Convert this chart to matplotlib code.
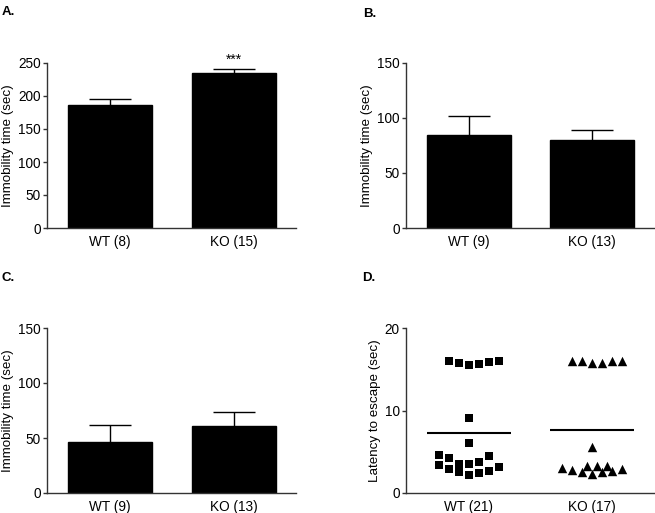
import matplotlib
matplotlib.use("Agg")
import matplotlib.pyplot as plt
import numpy as np

plt.rcParams['font.family'] = ['Liberation Sans', 'DejaVu Sans']
plt.rcParams['font.size'] = 7.5

# ---- data ----
groups_A = ["WT (8)", "KO (15)"]
means_A = [187, 235]
sem_A = [9, 6]

groups_B = ["WT (9)", "KO (13)"]
means_B = [84.5, 80]
sem_B = [17.5, 9.5]

groups_C = ["WT (9)", "KO (13)"]
means_C = [46, 60.6]
sem_C = [15.5, 13]

groups_D = ["WT (21)", "KO (17)"]
wt_D = [15.96, 15.76, 15.47, 15.6, 15.9, 15.96, 9.1, 6.06,
        4.65, 4.24, 3.5, 3.5, 3.76, 4.44, 3.35, 2.95, 2.55, 2.22, 2.42, 2.63, 3.15]
wt_D_cols = [-2, -1, 0, 1, 2, 3, 0, 0,
             -3, -2, -1, 0, 1, 2, -3, -2, -1, 0, 1, 2, 3]
ko_D = [15.96, 15.96, 15.7, 15.7, 15.96, 15.96, 5.6,
        3.03, 2.83, 2.55, 3.27, 2.3, 3.23, 2.5, 3.3, 2.67, 2.95]
ko_D_cols = [-2, -1, 0, 1, 2, 3, 0,
             -3, -2, -1, -0.5, 0, 0.5, 1, 1.5, 2, 3]
mean_D = [7.31, 7.6]

fig = plt.figure(figsize=(6.55, 5.13), dpi=100)
W, H = 655, 513

def ax_at(l, t, r, b):
    return fig.add_axes([l / W, 1 - b / H, (r - l) / W, (b - t) / H])

axis_col = '#333333'
bw = 0.68
xs = np.array([1, 2])
TICK_FS = 9.8
LAB_FS = 9.6

def style(ax, ymax, step, labels):
    for s in ['top', 'right']:
        ax.spines[s].set_visible(False)
    for s in ['left', 'bottom']:
        ax.spines[s].set_color(axis_col)
        ax.spines[s].set_linewidth(1.0)
    ax.set_xlim(0.49, 2.5)
    ax.set_ylim(0, ymax)
    ax.set_yticks(np.arange(0, ymax + 1, step))
    ax.tick_params(axis='y', length=3, width=1, color=axis_col, pad=1.5, labelsize=TICK_FS)
    ax.tick_params(axis='x', length=0, pad=5, labelsize=TICK_FS)
    ax.set_xticks(xs)
    ax.set_xticklabels(labels)

def bars(ax, means, sems):
    ax.bar(xs, means, width=bw, color='black', edgecolor='black', zorder=2)
    tops = np.array(means) + np.array(sems)
    ax.vlines(xs, means, tops, color='black', lw=1.0, zorder=1)
    ax.hlines(tops, xs - bw / 4, xs + bw / 4, color='black', lw=1.0, zorder=1)
    return tops

axA = ax_at(47, 63, 296, 228)
topsA = bars(axA, means_A, sem_A)
style(axA, 250, 50, groups_A)
axA.set_ylabel("Immobility time (sec)", fontsize=LAB_FS, labelpad=3)
axA.text(2, topsA[1] + 3, "***", ha='center', va='bottom', fontsize=10, clip_on=False)

axB = ax_at(406, 63, 654, 228)
bars(axB, means_B, sem_B)
style(axB, 150, 50, groups_B)
axB.set_ylabel("Immobility time (sec)", fontsize=LAB_FS, labelpad=3)

axC = ax_at(47, 328, 296, 493)
bars(axC, means_C, sem_C)
style(axC, 150, 50, groups_C)
axC.set_ylabel("Immobility time (sec)", fontsize=LAB_FS, labelpad=3)

axD = ax_at(406, 328, 654, 493)
colstep = 0.0806
axD.scatter(1 + np.array(wt_D_cols) * colstep, wt_D, marker='s', s=33, color='black', zorder=3, linewidths=0)
axD.scatter(2 + np.array(ko_D_cols) * colstep, ko_D, marker='^', s=46, color='black', zorder=3, linewidths=0)
axD.hlines(mean_D, xs - 0.34, xs + 0.34, color='black', lw=1.5, zorder=2)
style(axD, 20, 10, groups_D)
axD.set_ylabel("Latency to escape (sec)", fontsize=LAB_FS, labelpad=3)

for lab, (x, y) in {"A.": (2, 12), "B.": (363, 14), "C.": (2, 278), "D.": (362, 278)}.items():
    fig.text(x / W, 1 - y / H, lab, fontsize=9.5, fontweight='bold', ha='left', va='center')

fig.savefig("out.png", dpi=100)
